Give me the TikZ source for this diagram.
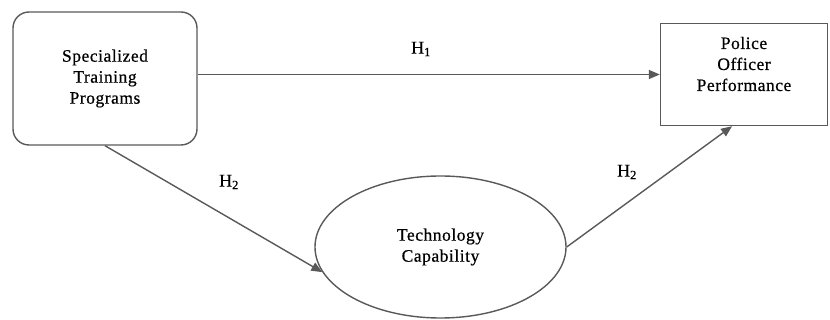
\documentclass[tikz,border=0pt]{standalone}
\usepackage{fontspec}
\setmainfont{Liberation Serif}[LetterSpace=3, FakeBold=0.6]
\usetikzlibrary{positioning,arrows.meta,shapes.geometric}

\begin{document}
\begin{tikzpicture}[
        x=1pt, y=-1pt,
        font=\fontsize{17.5}{21}\selectfont,
        >={Triangle[length=11pt, width=9pt]},
        line/.style={line width=1.4pt, draw=black!65},
        inbox/.style={rectangle, rounded corners=16pt, line, align=center,
                      minimum width=184pt, minimum height=133pt},
        outbox/.style={rectangle, line, minimum width=167pt, minimum height=102pt},
        medbox/.style={ellipse, line, align=center, inner sep=0pt,
                       minimum width=251pt, minimum height=142pt},
        txt/.style={align=center, inner sep=0pt},
        hyp/.style={inner sep=0pt, font=\fontsize{18}{21}\selectfont},
    ]
        \useasboundingbox (0,0) rectangle (830,320);

        \node[inbox] (spt) at (105,78.5) {Specialized\\Training\\Programs};
        \node[outbox] (pop) at (744,74.5) {};
        \node[txt] (poptxt) at (744,64) {Police\\Officer\\Performance};
        \node[medbox] (tc) at (440.5,247) {Technology\\Capability};

        % hypotheses
        \draw[->, line] (spt.east |- pop.west) -- (pop.west);
        \draw[->, line] (spt.south) -- (tc.192);
        \draw[->, line] (tc.east) -- (pop.-103);

        \node[hyp] (h1) at (421,49) {H\textsubscript{1}};
        \node[hyp] (h2a) at (229,182) {H\textsubscript{2}};
        \node[hyp] (h2b) at (627,172) {H\textsubscript{2}};
    \end{tikzpicture}
\end{document}
